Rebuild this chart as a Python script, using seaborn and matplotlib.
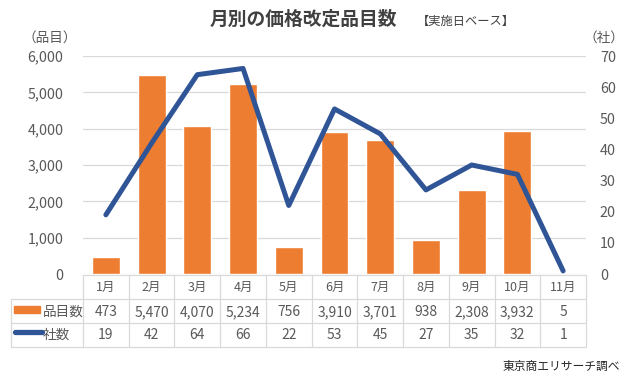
import numpy as np
import pandas as pd
import matplotlib
matplotlib.use("Agg")
import matplotlib.pyplot as plt
import matplotlib.transforms as mtrans
from matplotlib.lines import Line2D
from matplotlib.patches import Rectangle
from matplotlib.ticker import FuncFormatter, MultipleLocator
import seaborn as sns

# ---- data ----
months = ["1月", "2月", "3月", "4月", "5月", "6月", "7月", "8月", "9月", "10月", "11月"]
items = [473, 5470, 4070, 5234, 756, 3910, 3701, 938, 2308, 3932, 5]
companies = [19, 42, 64, 66, 22, 53, 45, 27, 35, 32, 1]
item_label = "品目数"
company_label = "社数"
title = "月別の価格改定品目数"
subtitle = "【実施日ベース】"
left_unit = "（品目）"
right_unit = "（社）"
source = "東京商エリサーチ調べ"

BAR = "#ED7D31"
LINE = "#2F5597"
TXT = "#595959"
GRID = "#D9D9D9"

sns.set_theme(style="white")
plt.rcParams["font.family"] = ["Noto Sans CJK JP", "DejaVu Sans"]

W, H = 639, 379
fig = plt.figure(figsize=(W / 100, H / 100), dpi=100)


def fx(px):
    return px / W


def fy(py):
    return 1 - py / H


# plot area in pixels
L, R, T, B = 83, 586, 56, 274
ax = fig.add_axes([fx(L), fy(B), fx(R - L), (B - T) / H])

df = pd.DataFrame({"month": months, "items": items, "companies": companies})
sns.barplot(data=df, x="month", y="items", color=BAR, saturation=1, width=0.61, ax=ax)
ax.set_xlim(-0.5, len(months) - 0.5)
ax.set_ylim(0, 6000)
ax.yaxis.set_major_locator(MultipleLocator(1000))
ax.yaxis.set_major_formatter(FuncFormatter(lambda v, p: f"{int(v):,}"))
ax.grid(axis="y", color=GRID, lw=0.9)
ax.set_axisbelow(True)
ax.set_xlabel("")
ax.set_ylabel("")
ax.set_xticks([])
ax.tick_params(axis="y", length=0, pad=14, labelsize=10.3, labelcolor=TXT)
for s in ax.spines.values():
    s.set_visible(False)

ax2 = ax.twinx()
df["pos"] = np.arange(len(months))
sns.lineplot(data=df, x="pos", y="companies", color=LINE, lw=3.6, ax=ax2,
             solid_capstyle="round", solid_joinstyle="round")
ax2.set_ylim(0, 70)
ax2.set_xlim(-0.5, len(months) - 0.5)
ax2.yaxis.set_major_locator(MultipleLocator(10))
ax2.set_xlabel("")
ax2.set_ylabel("")
ax2.set_xticks([])
ax2.tick_params(axis="y", length=0, pad=10, labelsize=10.3, labelcolor=TXT)
for s in ax2.spines.values():
    s.set_visible(False)

# ---- titles ----
fig.text(fx(303), fy(19), title, ha="center", va="center", fontsize=13.5,
         fontweight="bold", color="#404040")
fig.text(fx(466), fy(21), subtitle, ha="center", va="center", fontsize=8.8, color="#404040")
fig.text(fx(50), fy(38), left_unit, ha="center", va="center", fontsize=9.8, color=TXT)
fig.text(fx(604), fy(38), right_unit, ha="center", va="center", fontsize=9.8, color=TXT)
fig.text(fx(620), fy(366), source, ha="right", va="center", fontsize=8.5, color="#262626")

# ---- data table ----
tr = mtrans.blended_transform_factory(ax.transData, fig.transFigure)
y0, y1, y2, y3 = 274.7, 299, 323, 347
LX = 11
lc = GRID
lw = 0.9


def hline(xa, xb, y):
    fig.add_artist(Line2D([fx(xa), fx(xb)], [fy(y), fy(y)], color=lc, lw=lw,
                          transform=fig.transFigure))


def vline(x, ya, yb):
    fig.add_artist(Line2D([fx(x), fx(x)], [fy(ya), fy(yb)], color=lc, lw=lw,
                          transform=fig.transFigure))


hline(L, R, y0)
hline(LX, R, y1)
hline(LX, R, y2)
hline(LX, R, y3)
vline(LX, y1, y3)
n = len(months)
colw = (R - L) / n
for i in range(n + 1):
    vline(L + i * colw, y0, y3)

for i, m in enumerate(months):
    fig.text(i, fy(287), m, transform=tr, ha="center", va="center", fontsize=9, color=TXT)
    fig.text(i, fy(312), f"{items[i]:,}", transform=tr, ha="center", va="center",
             fontsize=10, color=TXT)
    fig.text(i, fy(335), f"{companies[i]:,}", transform=tr, ha="center", va="center",
             fontsize=10, color=TXT)

# legend keys
fig.add_artist(Rectangle((fx(14), fy(312.5)), fx(26), 7 / H, color=BAR,
                         transform=fig.transFigure))
fig.add_artist(Line2D([fx(14.5), fx(42)], [fy(332), fy(332)], color=LINE, lw=3.8,
                      solid_capstyle="round", transform=fig.transFigure))
fig.text(fx(43), fy(311.5), item_label, ha="left", va="center", fontsize=9.8, color=TXT)
fig.text(fx(43), fy(334.5), company_label, ha="left", va="center", fontsize=9.8, color=TXT)

fig.savefig("out.png", dpi=100)
